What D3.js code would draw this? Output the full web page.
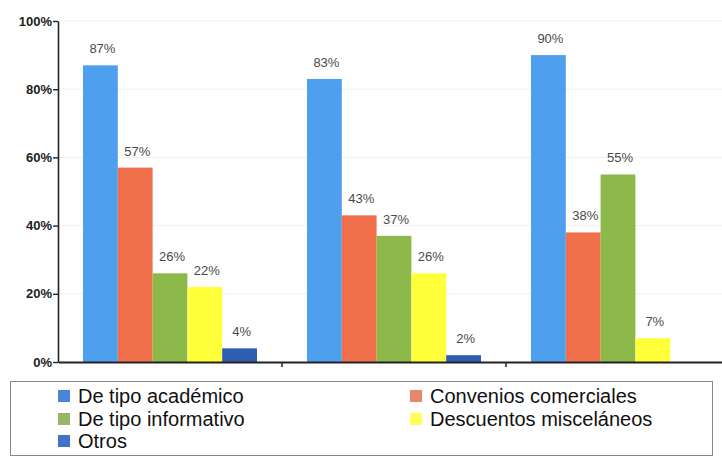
<!DOCTYPE html>
<html><head><meta charset="utf-8">
<script src="https://cdn.jsdelivr.net/npm/d3@7"></script>
<style>body{margin:0;background:#fff}svg{display:block}</style>
</head><body>
<svg id="c" width="722" height="457"></svg>
<script>
const groups = ["G1", "G2", "G3"];
const seriesNames = ["De tipo académico", "Convenios comerciales", "De tipo informativo", "Descuentos misceláneos", "Otros"];
const academico = [87, 83, 90];
const convenios = [57, 43, 38];
const informativo = [26, 37, 55];
const descuentos = [22, 26, 7];
const otros = [4, 2, null];
const barColors = ["#4f9fef", "#f0704c", "#8db84a", "#ffff3a", "#2f5db2"];
const legendColors = ["#4a86d8", "#e8876a", "#95b865", "#ffff5a", "#3f72c8"];
const yTicks = [0, 20, 40, 60, 80, 100];

const seriesValues = [academico, convenios, informativo, descuentos, otros];
const svg = d3.select("#c");
const y = d3.scaleLinear().domain([0, 100]).range([362, 21]);
const x0 = d3.scaleBand().domain(groups).range([58, 730]);
const x1 = d3.scaleBand().domain(seriesNames).range([25, 199]);

// gridlines
svg.append("g").selectAll("line").data(yTicks.filter(d => d > 0)).join("line")
  .attr("x1", 59).attr("x2", 722).attr("y1", d => y(d)).attr("y2", d => y(d))
  .attr("stroke", "#efefef").attr("stroke-width", 1);

// bars
const gg = svg.append("g").selectAll("g").data(groups).join("g")
  .attr("transform", d => `translate(${x0(d)},0)`);
gg.each(function(g, gi) {
  const sel = d3.select(this);
  seriesNames.forEach((s, si) => {
    const v = seriesValues[si][gi];
    if (v == null) return;
    sel.append("rect").attr("x", x1(s)).attr("width", x1.bandwidth())
      .attr("y", y(v)).attr("height", y(0) - y(v)).attr("fill", barColors[si]);
    sel.append("text").attr("x", x1(s) + x1.bandwidth() / 2 + 2).attr("y", y(v) - 12)
      .attr("text-anchor", "middle").attr("font-family", "Liberation Sans, Arial, sans-serif")
      .attr("font-size", 13).attr("fill", "#4a4a4a").text(v + "%");
  });
});

// y axis
const ya = svg.append("g").attr("transform", "translate(58,0)")
  .call(d3.axisLeft(y).tickValues(yTicks).tickFormat(d => d + "%").tickSize(5).tickSizeOuter(0));
ya.select(".domain").attr("stroke", "#222").attr("stroke-width", 1.6);
ya.selectAll(".tick line").attr("stroke", "#222").attr("stroke-width", 1.4);
ya.selectAll("text").attr("font-family", "Liberation Sans, Arial, sans-serif").attr("font-size", 13)
  .attr("font-weight", "bold").attr("fill", "#222").attr("x", -6);

// x axis
const xa = svg.append("g").attr("transform", "translate(0,362)")
  .call(d3.axisBottom(x0).tickValues(groups.slice(1)).tickSize(5).tickSizeOuter(0).tickFormat(""));
xa.select(".domain").attr("stroke", "#222").attr("stroke-width", 2);
xa.selectAll(".tick").attr("transform", d => `translate(${x0(d)},0)`);
xa.selectAll(".tick line").attr("stroke", "#222").attr("stroke-width", 1.5);

// legend
const lg = svg.append("g");
lg.append("rect").attr("x", 10.5).attr("y", 381.5).attr("width", 702).attr("height", 74)
  .attr("fill", "none").attr("stroke", "#888").attr("stroke-width", 1);
const legPos = [[58, 396], [410, 396], [58, 419], [410, 419], [58, 441]];
seriesNames.forEach((s, i) => {
  const [lx, ly] = legPos[i];
  lg.append("rect").attr("x", lx).attr("y", ly - 6).attr("width", 12).attr("height", 12)
    .attr("fill", legendColors[i]);
  lg.append("text").attr("x", lx + 20).attr("y", ly + 7)
    .attr("font-family", "Liberation Sans Narrow, Arial Narrow, sans-serif")
    .attr("font-size", 20).attr("fill", "#111").text(s);
});
</script>
</body></html>
